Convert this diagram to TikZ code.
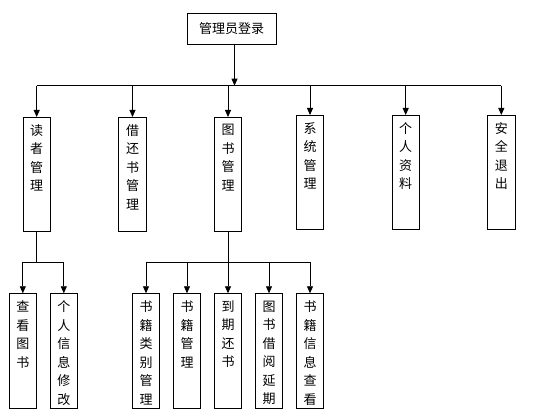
\documentclass[tikz,border=0pt]{standalone}
\usepackage{fontspec}
\newfontfamily\cjk{Noto Sans CJK SC}
\usepackage{tikz}
\usetikzlibrary{arrows.meta,positioning}
\tikzstyle{block} = [rectangle, draw, line width=0.8pt, font=\cjk\fontsize{13}{18.5}\selectfont,
    inner xsep=0pt, inner ysep=7pt, minimum width=27.6pt, anchor=north]
\tikzstyle{line} = [draw, line width=0.8pt]
\tikzstyle{arrow} = [line, -{Triangle[length=7pt,width=6pt]}]
\newcommand{\vtext}[2][100pt]{\parbox[t][#1][t]{13pt}{\centering #2}}

\begin{document}
\begin{tikzpicture}[x=1pt,y=1pt]
        \useasboundingbox (0,0) rectangle (535,-419);

        \node[rectangle, draw, line width=0.8pt, font=\cjk\fontsize{13}{16}\selectfont,
            minimum width=89pt, minimum height=31pt] (root) at (231.5,-28.5) {管理员登录};

        % second level
        \node[block] (duzhe) at (36.7,-117) {\vtext{读\\者\\管\\理}};
        \node[block] (jiehuan) at (132.5,-117) {\vtext{借\\还\\书\\管\\理}};
        \node[block] (tushu) at (228,-117) {\vtext{图\\书\\管\\理}};
        \node[block] (xitong) at (310,-115) {\vtext{系\\统\\管\\理}};
        \node[block] (geren) at (405.7,-115) {\vtext{个\\人\\资\\料}};
        \node[block] (anquan) at (501.3,-115) {\vtext{安\\全\\退\\出}};

        % third level
        \node[block] (chakan) at (22.8,-293.3) {\vtext[101pt]{查\\看\\图\\书}};
        \node[block] (xiugai) at (63.8,-293.3) {\vtext[101pt]{个\\人\\信\\息\\修\\改}};
        \node[block] (leibie) at (146,-293.3) {\vtext[101pt]{书\\籍\\类\\别\\管\\理}};
        \node[block] (shuji) at (187,-293.3) {\vtext[101pt]{书\\籍\\管\\理}};
        \node[block] (daoqi) at (228,-293.3) {\vtext[101pt]{到\\期\\还\\书}};
        \node[block] (yanqi) at (269,-293.3) {\vtext[101pt]{图\\书\\借\\阅\\延\\期}};
        \node[block] (xinxi) at (310,-293.3) {\vtext[101pt]{书\\籍\\信\\息\\查\\看}};

        \coordinate (bus) at (0,-85.7);
        \coordinate (bus2) at (0,-262);

        \draw[arrow] ([xshift=3pt]root.south) -- ([xshift=3pt]root.south |- bus);
        \draw[line] (duzhe |- bus) -- (anquan |- bus);
        \foreach \n in {duzhe,jiehuan,tushu,xitong,geren,anquan}
            \draw[arrow] (\n |- bus) -- (\n.north);

        \draw[line] (duzhe.south) -- (duzhe |- bus2);
        \draw[line] (chakan |- bus2) -- (xiugai |- bus2);
        \draw[line] (tushu.south) -- (tushu |- bus2);
        \draw[line] (leibie |- bus2) -- (xinxi |- bus2);
        \foreach \n in {chakan,xiugai,leibie,shuji,daoqi,yanqi,xinxi}
            \draw[arrow] (\n |- bus2) -- (\n.north);
    \end{tikzpicture}
\end{document}
